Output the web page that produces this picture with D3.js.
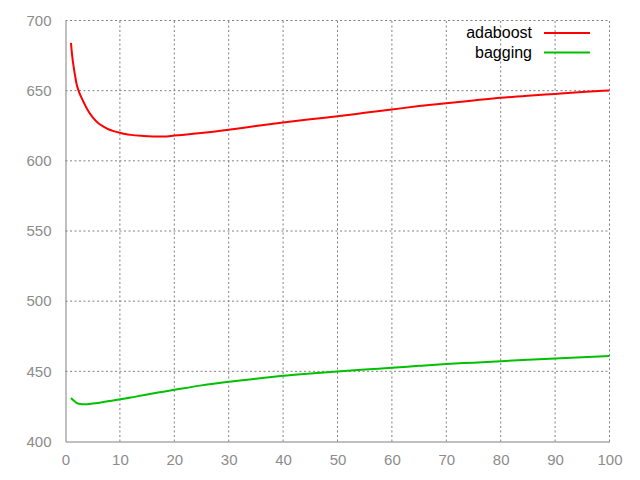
<!DOCTYPE html>
<html>
<head>
<meta charset="utf-8">
<script src="https://cdn.jsdelivr.net/npm/d3@7"></script>
<style>
  html, body { margin: 0; padding: 0; background: #fff; }
  svg { display: block; }
</style>
</head>
<body>
<script>
// ---- data ----
const seriesNames = ["adaboost", "bagging"];
const seriesColors = ["#ff0000", "#00c000"];

const adaboostX = [1, 1.25, 1.5, 1.75, 2, 2.5, 3, 3.5, 4, 4.5, 5, 6, 7, 8, 9, 10, 11, 12, 14, 16, 18, 20, 25, 30, 35, 40, 45, 50, 55, 60, 65, 70, 75, 80, 85, 90, 95, 100];
const adaboostY = [684, 674, 667, 661, 655.5, 649, 644.5, 640.5, 636.7, 633.6, 631, 627, 624.4, 622.3, 621, 620, 619.1, 618.5, 617.8, 617.4, 617.4, 618, 619.8, 622.2, 624.8, 627.3, 629.6, 631.8, 634.2, 636.6, 639, 641.1, 643, 644.9, 646.4, 647.7, 649, 650.2];

const baggingX = [1, 1.5, 2, 2.5, 3, 4, 5, 6, 7, 8, 9, 10, 12, 14, 16, 18, 20, 25, 30, 35, 40, 45, 50, 55, 60, 65, 70, 75, 80, 85, 90, 95, 100];
const baggingY = [431, 429.2, 427.6, 426.9, 426.6, 426.6, 427, 427.5, 428.1, 428.8, 429.4, 430.1, 431.3, 432.8, 434.2, 435.5, 436.8, 440, 442.6, 444.8, 446.8, 448.4, 449.9, 451.3, 452.5, 453.9, 455.2, 456.2, 457.2, 458.2, 459.1, 460, 461];

const xTicks = [0, 10, 20, 30, 40, 50, 60, 70, 80, 90, 100];
const yTicks = [400, 450, 500, 550, 600, 650, 700];

// ---- layout ----
const W = 640, H = 480;
const svg = d3.select("body").append("svg").attr("width", W).attr("height", H);

const x = d3.scaleLinear().domain([0, 100]).range([65.5, 609.5]);
const y = d3.scaleLinear().domain([400, 700]).range([441.5, 20.5]);

const gray = "#808080";
const font = "'Liberation Sans', Arial, sans-serif";

// grid
const grid = svg.append("g");
grid.selectAll(".gx").data(xTicks.filter(d => d !== 0)).enter().append("line")
  .attr("x1", d => x(d)).attr("x2", d => x(d))
  .attr("y1", y(400)).attr("y2", y(700))
  .attr("stroke", gray).attr("stroke-width", 1).attr("stroke-dasharray", "2,2.5");
grid.selectAll(".gy").data(yTicks.filter(d => d !== 400)).enter().append("line")
  .attr("x1", x(0)).attr("x2", x(100))
  .attr("y1", d => y(d)).attr("y2", d => y(d))
  .attr("stroke", gray).attr("stroke-width", 1).attr("stroke-dasharray", "2,2.5");

// axes
const xAxis = d3.axisBottom(x).tickValues(xTicks).tickSize(0).tickPadding(13).tickFormat(d3.format("d"));
const yAxis = d3.axisLeft(y).tickValues(yTicks).tickSize(0).tickPadding(14).tickFormat(d3.format("d"));

const gx = svg.append("g").attr("transform", `translate(0,${y(400)})`).call(xAxis);
const gy = svg.append("g").attr("transform", `translate(${x(0)},0)`).call(yAxis);
[gx, gy].forEach(g => {
  g.select(".domain").attr("stroke", gray).attr("stroke-width", 1);
  g.selectAll("text").attr("fill", "#8c8c8c").style("font-family", font).style("font-size", "15px");
});

// series
const line = d3.line().x(d => x(d[0])).y(d => y(d[1])).curve(d3.curveMonotoneX);
const seriesData = [
  d3.zip(adaboostX, adaboostY),
  d3.zip(baggingX, baggingY)
];

svg.append("g").selectAll("path").data(seriesData).enter().append("path")
  .attr("d", line)
  .attr("fill", "none")
  .attr("stroke", (d, i) => seriesColors[i])
  .attr("stroke-width", 2)
  .attr("stroke-linejoin", "round");

// legend
const legend = svg.append("g");
seriesNames.forEach((name, i) => {
  const ly = 33 + i * 19.5;
  legend.append("text")
    .attr("x", 532).attr("y", ly + 5)
    .attr("text-anchor", "end")
    .attr("fill", "#000")
    .style("font-family", font).style("font-size", "16px")
    .text(name);
  legend.append("line")
    .attr("x1", 544).attr("x2", 590)
    .attr("y1", ly).attr("y2", ly)
    .attr("stroke", seriesColors[i]).attr("stroke-width", 2);
});
</script>
</body>
</html>
